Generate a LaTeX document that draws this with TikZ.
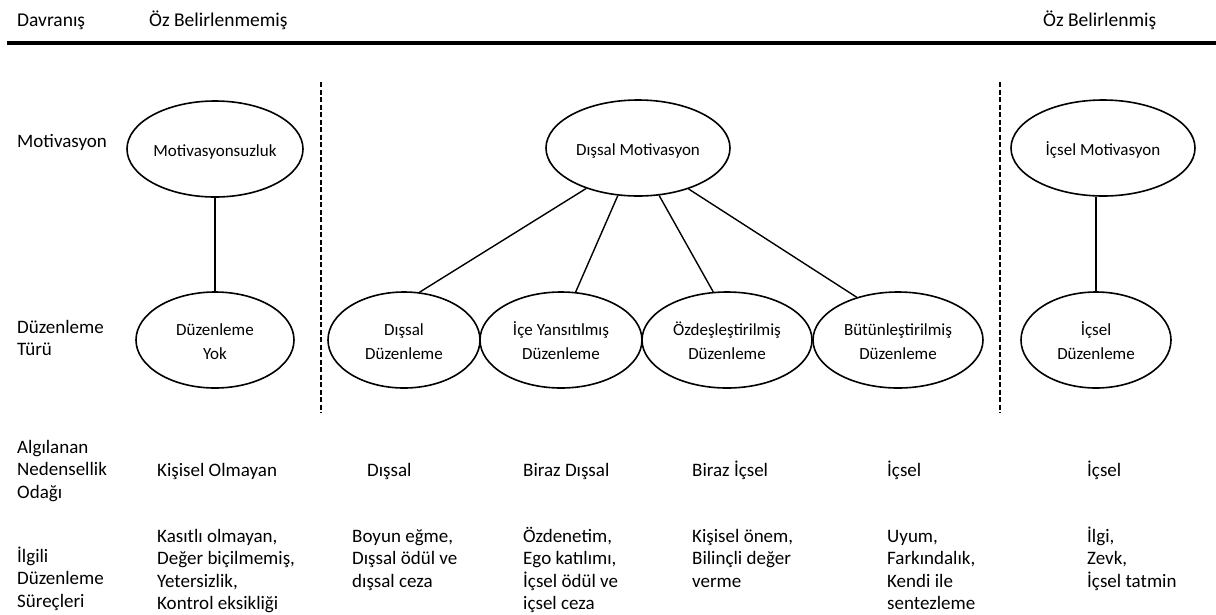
\documentclass[tikz,border=0pt]{standalone}
\usepackage{fontspec}
\setmainfont{Carlito}
\usetikzlibrary{shapes.geometric}
\newcommand\lstrut{\rule{0pt}{17pt}}
\newcommand\estrut{\rule[-5pt]{0pt}{24pt}}
\begin{document}
\begin{tikzpicture}[x=1pt,y=-1pt,
  ell/.style={ellipse,draw,line width=1.6pt,inner sep=0pt,align=center,
    minimum height=96pt,font=\fontsize{17}{24}\selectfont},
  hdr/.style={anchor=base west,inner sep=0pt,font=\fontsize{19.5}{23}\selectfont},
  one/.style={anchor=base west,inner sep=0pt,font=\fontsize{19}{22.5}\selectfont},
  lbl/.style={anchor=north west,inner sep=0pt,align=left,font=\fontsize{19}{22.5}\selectfont},
  conn/.style={line width=1.4pt},
  sepline/.style={line width=1.5pt,dash pattern=on 5pt off 2.5pt},
  rule/.style={line width=4pt}]
\useasboundingbox (0,0) rectangle (1216,614);

% header
\node[hdr] (davranis) at (17,26) {Davranış};
\node[hdr] (ozbm) at (149,26) {Öz Belirlenmemiş};
\node[hdr] (ozb) at (1043,26) {Öz Belirlenmiş};
\coordinate (rl) at (7,43);
\coordinate (rr) at (1216,43);
\draw[rule] (rl) -- (rr);

% separators
\coordinate (s1t) at (321,82);
\coordinate (s1b) at (321,413);
\coordinate (s2t) at (1000,82);
\coordinate (s2b) at (1000,413);
\draw[sepline] (s1t) -- (s1b);
\draw[sepline] (s2t) -- (s2b);

% row labels
\node[one] (motlbl) at (17,147) {Motivasyon};
\node[lbl] (duzlbl) at (17,316) {\lstrut Düzenleme\\Türü};
\node[lbl] (alglbl) at (17,436) {\lstrut Algılanan\\Nedensellik\\Odağı};
\node[lbl] (ilglbl) at (17,545) {\lstrut İlgili\\Düzenleme\\Süreçleri};

% motivation ellipses
\node[ell,minimum width=176pt] (mot0) at (215,149) {\estrut Motivasyonsuzluk};
\node[ell,minimum width=184pt] (dm) at (638,148) {\estrut Dışsal Motivasyon};
\node[ell,minimum width=184pt] (im) at (1103,148) {\estrut İçsel Motivasyon};

% regulation ellipses
\node[ell,minimum width=158pt] (dyok) at (215,340) {\estrut Düzenleme\\\estrut Yok};
\node[ell,minimum width=152pt] (dd) at (404,340) {\estrut Dışsal\\\estrut Düzenleme};
\node[ell,minimum width=162pt] (iy) at (561,340) {\estrut İçe Yansıtılmış\\\estrut Düzenleme};
\node[ell,minimum width=170pt] (oz) at (727,340) {\estrut Özdeşleştirilmiş\\\estrut Düzenleme};
\node[ell,minimum width=170pt] (bt) at (898,340) {\estrut Bütünleştirilmiş\\\estrut Düzenleme};
\node[ell,minimum width=150pt] (id) at (1096,340) {\estrut İçsel\\\estrut Düzenleme};

% connectors
\draw[conn] (mot0) -- (dyok);
\draw[conn] (dm.218) -- (dd.72);
\draw[conn] (dm.247) -- (iy.73);
\draw[conn] (dm.294) -- (oz.106);
\draw[conn] (dm.321) -- (bt.134);
\draw[conn] (id.north) -- (id.north |- im.south);

% locus of causality
\node[one] (c1) at (157,476) {Kişisel Olmayan};
\node[one] (c2) at (367,476) {Dışsal};
\node[one] (c3) at (523,476) {Biraz Dışsal};
\node[one] (c4) at (692,476) {Biraz İçsel};
\node[one] (c5) at (887,476) {İçsel};
\node[one] (c6) at (1087,476) {İçsel};

% processes
\node[lbl] (p1) at (157,525) {\lstrut Kasıtlı olmayan,\\Değer biçilmemiş,\\Yetersizlik,\\Kontrol eksikliği};
\node[lbl] (p2) at (352,525) {\lstrut Boyun eğme,\\Dışsal ödül ve\\dışsal ceza};
\node[lbl] (p3) at (523,525) {\lstrut Özdenetim,\\Ego katılımı,\\İçsel ödül ve\\içsel ceza};
\node[lbl] (p4) at (692,525) {\lstrut Kişisel önem,\\Bilinçli değer\\verme};
\node[lbl] (p5) at (887,525) {\lstrut Uyum,\\Farkındalık,\\Kendi ile\\sentezleme};
\node[lbl] (p6) at (1087,525) {\lstrut İlgi,\\Zevk,\\İçsel tatmin};
\end{tikzpicture}
\end{document}
